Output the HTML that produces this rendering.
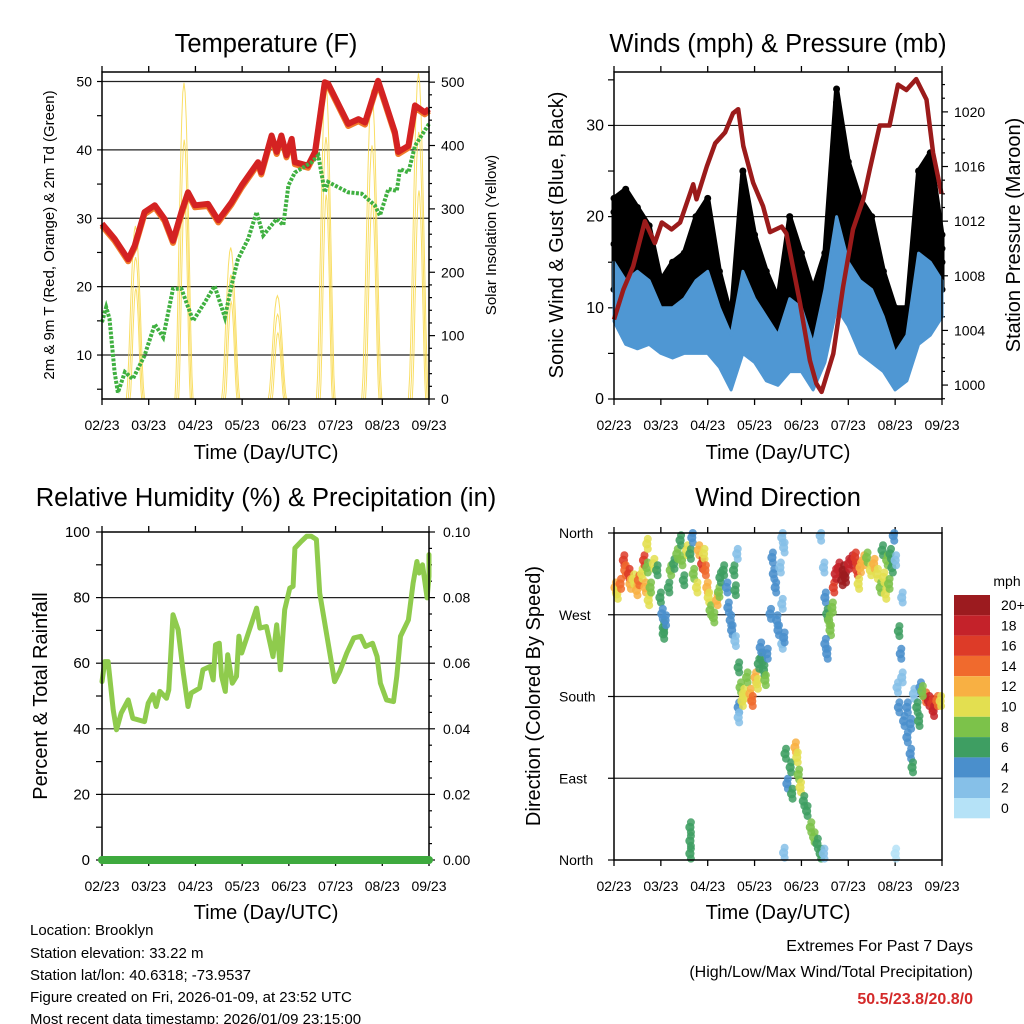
<!DOCTYPE html>
<html><head><meta charset="utf-8"><style>
html,body{margin:0;padding:0;background:#fff;}
svg{display:block;font-family:"Liberation Sans",sans-serif;}
</style></head><body>
<svg id="root" width="1024" height="1024" viewBox="0 0 1024 1024" xmlns="http://www.w3.org/2000/svg">
<rect width="1024" height="1024" fill="#fff"/>
<text x="266" y="52" font-size="25.5" text-anchor="middle">Temperature (F)</text>
<text x="778" y="52" font-size="25.5" text-anchor="middle">Winds (mph) &amp; Pressure (mb)</text>
<text x="266" y="506" font-size="25.5" text-anchor="middle">Relative Humidity (%) &amp; Precipitation (in)</text>
<text x="778" y="506" font-size="25.5" text-anchor="middle">Wind Direction</text>
<text transform="translate(54,235) rotate(-90)" font-size="15" text-anchor="middle">2m &amp; 9m T (Red, Orange) &amp; 2m Td (Green)</text>
<text transform="translate(496,235) rotate(-90)" font-size="15" text-anchor="middle">Solar Insolation (Yellow)</text>
<text transform="translate(563,235) rotate(-90)" font-size="20" text-anchor="middle">Sonic Wind &amp; Gust (Blue, Black)</text>
<text transform="translate(1020,235) rotate(-90)" font-size="20" text-anchor="middle">Station Pressure (Maroon)</text>
<text transform="translate(47,696) rotate(-90)" font-size="20" text-anchor="middle">Percent &amp; Total Rainfall</text>
<text transform="translate(540,696) rotate(-90)" font-size="20" text-anchor="middle">Direction (Colored By Speed)</text>
<text x="266" y="459" font-size="20" text-anchor="middle">Time (Day/UTC)</text>
<text x="778" y="459" font-size="20" text-anchor="middle">Time (Day/UTC)</text>
<text x="266" y="919" font-size="20" text-anchor="middle">Time (Day/UTC)</text>
<text x="778" y="919" font-size="20" text-anchor="middle">Time (Day/UTC)</text>
<g font-size="15">
<text x="30" y="935">Location: Brooklyn</text>
<text x="30" y="958">Station elevation: 33.22 m</text>
<text x="30" y="980">Station lat/lon: 40.6318; -73.9537</text>
<text x="30" y="1002">Figure created on Fri, 2026-01-09, at 23:52 UTC</text>
<text x="30" y="1024">Most recent data timestamp: 2026/01/09 23:15:00</text>
</g>
<text x="973" y="951" font-size="16" text-anchor="end">Extremes For Past 7 Days</text>
<text x="973" y="977" font-size="16" text-anchor="end">(High/Low/Max Wind/Total Precipitation)</text>
<text x="973" y="1004" font-size="16" font-weight="bold" fill="#d42a2a" text-anchor="end">50.5/23.8/20.8/0</text>
<text x="1007" y="586" font-size="14" text-anchor="middle">mph</text>
</svg>
<script>
const dayLabels=['02/23','03/23','04/23','05/23','06/23','07/23','08/23','09/23'];
// Temperature (F)
const tempT=[0,0.27,0.56,0.7,0.91,1.13,1.34,1.52,1.7,1.84,1.99,2.27,2.49,2.77,2.99,3.34,3.41,3.63,3.74,3.84,3.95,4.06,4.13,4.41,4.56,4.77,4.84,5.27,5.49,5.63,5.91,6.06,6.27,6.34,6.56,6.7,6.91,7.0];
const tempV=[29.2,27,24,26,30.9,31.9,29.9,26.7,30.9,33.8,31.9,32.1,29.7,32.3,34.8,38.2,36.7,42.1,39.7,42.1,39.2,41.6,38.2,37.7,39.7,49.9,49.7,43.8,44.5,44,50.1,47,42.6,39.7,40.6,46.5,45.5,46];
const dewT=[0,0.09,0.16,0.27,0.34,0.49,0.66,0.91,1.13,1.31,1.52,1.7,1.95,2.2,2.41,2.63,2.77,2.91,3.13,3.31,3.45,3.74,3.88,3.99,4.13,4.49,4.63,4.77,4.84,5.27,5.56,5.84,5.95,6.13,6.31,6.38,6.56,6.7,7.0];
const dewV=[14.8,17,15.3,7.5,4.5,7.5,6.5,9.9,14.5,12.6,19.7,19.7,15,17.7,20.1,15.5,20.1,24,27,30.9,27.5,29.9,29,34.8,36.7,38.2,39.2,33.8,35.3,33.8,33.6,31.9,30.4,34.3,34,37.2,36.7,40.6,43.8];
const solarStart=[0.52,1.56,2.56,3.56,4.59,5.56,6.56];
const solarEnd=[0.91,1.95,2.95,3.95,4.99,5.99,6.99];
const solarPeak=[273,499,239,163,504,488,514];
// Winds & pressure
const presT=[0,0.2,0.41,0.66,0.87,1.02,1.23,1.41,1.69,1.76,1.98,2.16,2.37,2.54,2.65,2.76,2.97,3.18,3.33,3.58,3.68,3.97,4.18,4.32,4.43,4.68,4.89,5.1,5.32,5.46,5.67,5.88,6.06,6.24,6.45,6.67,6.81,6.99];
const presV=[1004.8,1007,1008.7,1012,1010.4,1011.9,1011.4,1011.9,1014.7,1013.6,1016,1017.7,1018.5,1019.9,1020.2,1017.5,1014.8,1013.1,1011.2,1011.6,1011.1,1006,1001.8,1000.1,999.5,1002.3,1007.2,1011.4,1013.6,1015.8,1019,1019,1022,1021.6,1022.4,1020.9,1017,1014];
const windT=[0,0.25,0.5,0.75,1,1.25,1.5,1.75,2,2.25,2.5,2.75,3,3.25,3.5,3.75,4,4.25,4.5,4.75,5,5.25,5.5,5.75,6,6.25,6.5,6.75,7];
const windLo=[8.5,6,5.5,6,5,4.5,5,5,5,3.5,1,5,4,2,1.5,3,3,1,4,10,8,5,4,3,1,2,6,7,9];
const windHi=[15,13,14,13,10,10,11,13,14,10,7,14,11,9,7,11,10,6,12,20,15,13,12,9,5,7,16,15,13];
const gustLo=[12,12,11,11,8,7,8,10,10,7,4,10,8,5,4,6,6,3,8,17,14,10,8,6,4,4,12,15,12];
const gustHi=[22,23,21,19,13,15,16,20,22,14,9,25,18,14,11,20,16,12,16,34,26,22,20,14,10,10,25,27,18];
// Relative humidity
const rhT=[0,0.06,0.13,0.24,0.31,0.41,0.56,0.66,0.91,0.99,1.09,1.16,1.24,1.38,1.43,1.52,1.63,1.74,1.84,1.91,2.09,2.16,2.31,2.38,2.43,2.51,2.56,2.64,2.69,2.79,2.88,2.93,2.99,3.31,3.38,3.52,3.66,3.74,3.82,3.91,4.02,4.09,4.13,4.27,4.38,4.48,4.59,4.66,4.98,5.09,5.24,5.39,5.54,5.64,5.79,5.89,5.96,6.09,6.24,6.31,6.39,6.56,6.66,6.74,6.79,6.86,6.96,7.03,7.14,7.25];
const rhV=[54.4,60.5,60.5,45.8,39.7,44.8,48.8,43.2,42.2,47.8,50.4,46.8,51.4,49.3,51.9,74.8,70.2,57,46.8,50.9,52.4,58,59,54.9,65.6,66.1,56,51.4,62.6,53.9,56,68.2,63.1,76.8,70.7,71.2,62,71.7,58,76.3,82.9,83.4,95.1,97.2,98.7,98.7,97.7,81.4,54.4,57.5,63.1,67.7,68.2,65.1,66.1,62,53.9,48.8,48.3,56,68.2,73.2,84.4,91,87.5,90,79.9,86.5,89.5,93.1];
const precipT=[0,7];
const precipV=[0,0];
// Wind direction
const dirT=[0.02,0.06,0.13,0.2,0.23,0.31,0.34,0.41,0.48,0.52,0.59,0.63,0.66,0.7,0.7,0.73,0.77,0.84,0.91,0.98,1.02,1.05,1.05,1.09,
1.16,1.2,1.27,1.34,1.41,1.44,1.48,1.55,1.62,1.66,1.69,1.76,1.8,1.87,1.91,1.94,1.98,2.01,2.05,2.12,2.19,2.23,2.26,
2.33,2.4,2.43,2.48,2.51,2.55,2.58,2.58,2.62,
2.65,2.65,2.69,2.73,2.76,2.83,2.9,2.94,3.01,3.05,3.08,3.15,3.19,3.22,3.26,3.12,2.65,
3.33,3.37,3.4,3.44,3.47,3.5,3.54,3.58,3.62,3.58,3.58,3.62,
3.65,3.69,3.76,3.79,3.86,3.9,3.93,3.97,4.04,4.11,4.19,4.26,4.33,4.4,4.47,3.62,
4.4,4.47,4.5,4.54,4.58,4.61,4.5,4.54,4.65,
4.68,4.72,4.79,4.86,4.89,4.93,5.0,5.07,5.14,5.18,5.25,5.21,5.32,5.39,
5.47,5.54,5.61,5.68,5.72,5.75,5.79,5.82,5.86,5.89,5.93,5.96,6.0,6.14,
6.07,6.11,6.04,6.07,6.14,6.18,6.25,6.25,6.32,6.32,6.36,6.39,6.46,6.5,6.53,
6.64,6.71,6.78,6.81,6.89,6.96,6.57,1.62,1.62,1.62,6.0];
const dirV=[300,293,304,330,319,315,304,309,297,308,315,330,300,322,348,286,300,326,319,289,271,256,249,264,
300,319,326,337,352,330,308,341,337,355,315,300,341,326,337,319,300,289,275,267,286,295,311,
319,300,278,264,253,319,297,241,337,
212,168,190,175,183,201,183,175,201,194,216,223,209,198,227,234,157,
271,333,315,300,264,253,322,355,344,282,238,245,
117,84,102,73,124,113,94,80,65,54,36,25,18,7,7,8,
357,322,289,271,264,253,238,227,278,
300,315,322,308,319,311,326,330,333,319,322,304,330,333,
319,326,315,300,341,311,293,330,304,337,322,357,330,289,
252,227,190,168,201,153,168,135,150,117,102,183,168,153,190,
179,175,172,164,175,175,186,36,21,7,7];
const dirSpd=[12,10,14,16,14,16,12,10,12,14,10,16,12,8,10,10,8,10,6,6,4,6,6,4,
6,8,6,8,6,8,6,10,6,4,8,10,12,16,10,14,12,10,8,8,12,8,6,
6,4,4,4,4,6,6,2,2,
6,4,8,10,10,8,12,14,12,10,6,6,6,8,4,4,2,
4,4,4,4,4,4,2,2,2,2,2,4,
6,4,6,6,12,10,8,10,6,6,8,8,6,6,2,2,
2,2,4,6,8,8,4,4,8,
16,18,18,20,20,20,18,18,16,16,12,10,12,8,
10,12,10,8,6,10,10,8,8,6,6,4,2,2,
6,4,2,4,2,4,4,4,4,4,6,2,6,6,4,
14,18,16,18,14,10,8,6,6,6,0];
const speedLabels=['20+','18','16','14','12','10','8','6','4','2','0'];
const speedColors=['#b5e2f7','#86c0e8','#4a8fcc','#3e9e62','#7cc24a','#e3df50','#f8b043','#f06a2d','#dd3b28','#c4222a','#9c1b1f'];

const NS='http://www.w3.org/2000/svg';
const svg=document.getElementById('root');
function mk(tag,attrs,parent){const e=document.createElementNS(NS,tag);for(const k in attrs)e.setAttribute(k,attrs[k]);(parent||svg).appendChild(e);return e;}

const P1={L:102,R:429,T:72,B:399};
const P2={L:614,R:942,T:72,B:399};
const P3={L:102,R:429,T:532,B:860};
const P4={L:614,R:942,T:533,B:860};
function xs(p,t){return p.L+t*(p.R-p.L)/7;}
function ys(p,v,lo,hi){return p.B-(v-lo)*(p.B-p.T)/(hi-lo);}
const TEMP=[3.57,51.39],SOL=[0,516],WIND=[0,35.86],PRES=[998.98,1022.92],RH=[0,100],PCP=[0,0.1],DIR=[0,360];

function frame(p,key){
  const g=mk('g',{});
  
  
  for(let i=0;i<dayLabels.length;i++){
    const x=xs(p,i);
    const tk=mk('line',{x1:x,x2:x,y1:p.B,y2:p.B+6,stroke:'#000','stroke-width':1.3},g);
    
    
    const tk2=mk('line',{x1:x,x2:x,y1:p.T,y2:p.T-6,stroke:'#000','stroke-width':1.3},g);
    
    
    const lb=mk('text',{x:x,y:p.B+31,'font-size':14,'text-anchor':'middle'},g);
    lb.textContent=dayLabels[i];
    
    
  }
  return g;
}
function box(p,key){
  const r=mk('rect',{x:p.L,y:p.T,width:p.R-p.L,height:p.B-p.T,fill:'none',stroke:'#000','stroke-width':1.5});
  
  
}
function grid(p,key,vals,lo,hi){
  for(const v of vals){
    const y=ys(p,v,lo,hi);
    const l=mk('line',{x1:p.L,x2:p.R,y1:y,y2:y,stroke:'#222','stroke-width':1.2});
    
    
  }
}
function yTicks(p,key,side,vals,lo,hi,labels,len,fs,off){
  for(let i=0;i<vals.length;i++){
    const y=ys(p,vals[i],lo,hi);
    const x0=side==='left'?p.L:p.R;
    const x1=side==='left'?p.L-len:p.R+len;
    const t=mk('line',{x1:x0,x2:x1,y1:y,y2:y,stroke:'#000','stroke-width':1.2});
    
    
    if(labels&&labels[i]!==''){
      const tx=mk('text',{x:side==='left'?p.L-off:p.R+off,y:y+5,'font-size':fs,'text-anchor':side==='left'?'end':'start'});
      tx.textContent=labels[i];
      
      
    }
  }
}
function path(p,T,V,lo,hi){let d='';for(let i=0;i<T.length;i++){d+=(i?'L':'M')+xs(p,T[i]).toFixed(1)+','+ys(p,V[i],lo,hi).toFixed(1);}return d;}

// ---------- Panel 1 ----------
frame(P1,'temperature');
grid(P1,'temperature',[10,20,30,40,50],TEMP[0],TEMP[1]);
yTicks(P1,'temperature','left',[5,10,15,20,25,30,35,40,45,50],TEMP[0],TEMP[1],['','10','','20','','30','','40','','50'],5,14,10);
yTicks(P1,'solar','right',[0,100,200,300,400,500],SOL[0],SOL[1],['0','100','200','300','400','500'],6,14,12);
yTicks(P1,'solar-minor','right',[20,40,60,80,120,140,160,180,220,240,260,280,320,340,360,380,420,440,460,480],SOL[0],SOL[1],null,3,14,0);
for(let i=0;i<solarPeak.length;i++){
  for(let k=0;k<3;k++){
    const s=solarStart[i]+k*0.04, e=solarEnd[i]-k*0.03, pk=solarPeak[i]*(1-k*0.18);
    let d='';
    for(let j=0;j<=16;j++){
      const tt=s+(e-s)*j/16;
      const v=pk*Math.pow(Math.sin(Math.PI*j/16),1.6);
      d+=(j?'L':'M')+xs(P1,tt).toFixed(1)+','+ys(P1,v,SOL[0],SOL[1]).toFixed(1);
    }
    const sl=mk('path',{d:d,fill:'none',stroke:'#f8d84a','stroke-width':1,opacity:0.85});
    
    
  }
}
const tOr=mk('path',{d:path(P1,tempT,tempV.map(v=>v-0.3),TEMP[0],TEMP[1]),fill:'none',stroke:'#f07a2a','stroke-width':6,'stroke-linejoin':'round'});


const tRd=mk('path',{d:path(P1,tempT,tempV,TEMP[0],TEMP[1]),fill:'none',stroke:'#d42222','stroke-width':6,'stroke-linejoin':'round'});


const tdL=mk('path',{d:path(P1,dewT,dewV,TEMP[0],TEMP[1]),fill:'none',stroke:'#3fb040','stroke-width':4,'stroke-dasharray':'3 1.5'});


box(P1,'temperature');

// ---------- Panel 2 ----------
frame(P2,'winds');
grid(P2,'winds',[10,20,30],WIND[0],WIND[1]);
yTicks(P2,'winds','left',[0,5,10,15,20,25,30,35],WIND[0],WIND[1],['0','','10','','20','','30',''],6,16,10);
yTicks(P2,'pressure','right',[1000,1004,1008,1012,1016,1020],PRES[0],PRES[1],['1000','1004','1008','1012','1016','1020'],6,14,12);
yTicks(P2,'pressure-minor','right',[999,1001,1002,1003,1005,1006,1007,1009,1010,1011,1013,1014,1015,1017,1018,1019,1021,1022],PRES[0],PRES[1],null,3,14,0);
(function(){
  let d='';
  for(let i=0;i<windT.length;i++)d+=(i?'L':'M')+xs(P2,windT[i]).toFixed(1)+','+ys(P2,gustHi[i],WIND[0],WIND[1]).toFixed(1);
  for(let i=windT.length-1;i>=0;i--)d+='L'+xs(P2,windT[i]).toFixed(1)+','+ys(P2,gustLo[i],WIND[0],WIND[1]).toFixed(1);
  const gb=mk('path',{d:d+'Z',fill:'#000',stroke:'#000','stroke-width':5,'stroke-linejoin':'round'});
  
  
  for(let i=0;i<windT.length;i++){
    for(const v of [gustHi[i],gustHi[i]-1.5,gustLo[i],(gustHi[i]+gustLo[i])/2]){
      const c=mk('circle',{cx:xs(P2,windT[i]),cy:ys(P2,v,WIND[0],WIND[1]),r:3.5,fill:'#000'});
      
      
    }
  }
  let d2='';
  for(let i=0;i<windT.length;i++)d2+=(i?'L':'M')+xs(P2,windT[i]).toFixed(1)+','+ys(P2,windHi[i],WIND[0],WIND[1]).toFixed(1);
  for(let i=windT.length-1;i>=0;i--)d2+='L'+xs(P2,windT[i]).toFixed(1)+','+ys(P2,windLo[i],WIND[0],WIND[1]).toFixed(1);
  const wb=mk('path',{d:d2+'Z',fill:'#4f97d3',stroke:'#4f97d3','stroke-width':3,'stroke-linejoin':'round'});
  
  
})();
const pL=mk('path',{d:path(P2,presT,presV,PRES[0],PRES[1]),fill:'none',stroke:'#9b1b1b','stroke-width':4.5,'stroke-linejoin':'round'});


box(P2,'winds');

// ---------- Panel 3 ----------
frame(P3,'humidity');
grid(P3,'humidity',[20,40,60,80],RH[0],RH[1]);
yTicks(P3,'humidity','left',[0,10,20,30,40,50,60,70,80,90,100],RH[0],RH[1],['0','','20','','40','','60','','80','','100'],6,15,12);
yTicks(P3,'precip','right',[0,0.02,0.04,0.06,0.08,0.1],PCP[0],PCP[1],['0.00','0.02','0.04','0.06','0.08','0.10'],6,14,14);
yTicks(P3,'precip-minor','right',[0.005,0.01,0.015,0.025,0.03,0.035,0.045,0.05,0.055,0.065,0.07,0.075,0.085,0.09,0.095],PCP[0],PCP[1],null,3,14,0);
const rhL=mk('path',{d:path(P3,rhT.map(t=>Math.min(t,7)),rhV,RH[0],RH[1]),fill:'none',stroke:'#8fcb4d','stroke-width':5,'stroke-linejoin':'round','stroke-linecap':'round'});


box(P3,'humidity');
const pcL=mk('path',{d:path(P3,precipT,precipV,PCP[0],PCP[1]),fill:'none',stroke:'#3eaa3e','stroke-width':8,'stroke-linecap':'round'});



// ---------- Panel 4 ----------
frame(P4,'direction');
grid(P4,'direction',[90,180,270],DIR[0],DIR[1]);
yTicks(P4,'direction','left',[0,90,180,270,360],DIR[0],DIR[1],null,6,14,0);
const dirNames=['North','East','South','West','North'];
for(let i=0;i<5;i++){
  const y=ys(P4,i*90,DIR[0],DIR[1]);
  const t=mk('text',{x:559,y:y+5,'font-size':14});
  t.textContent=dirNames[i];
  
  
}
for(let i=0;i<dirT.length;i++){
  const bin=Math.min(10,Math.floor(dirSpd[i]/2));
  const cx=xs(P4,dirT[i]), cy=ys(P4,dirV[i],DIR[0],DIR[1]);
  for(const dy of [-5,5]){
    const c2=mk('circle',{cx:cx+1,cy:Math.min(P4.B,Math.max(P4.T,cy+dy)),r:4,fill:speedColors[bin],opacity:0.85});
    
    
  }
  const c=mk('circle',{cx:cx,cy:cy,r:4.6,fill:speedColors[bin],opacity:0.9});
  
  
}
box(P4,'direction');
for(let i=0;i<speedLabels.length;i++){
  const y=595+i*20.3;
  const r=mk('rect',{x:954,y:y,width:36,height:20.3,fill:speedColors[10-i]});
  
  
  const t=mk('text',{x:1001,y:y+15,'font-size':14});
  t.textContent=speedLabels[i];
  
  
}
</script>
</body></html>
